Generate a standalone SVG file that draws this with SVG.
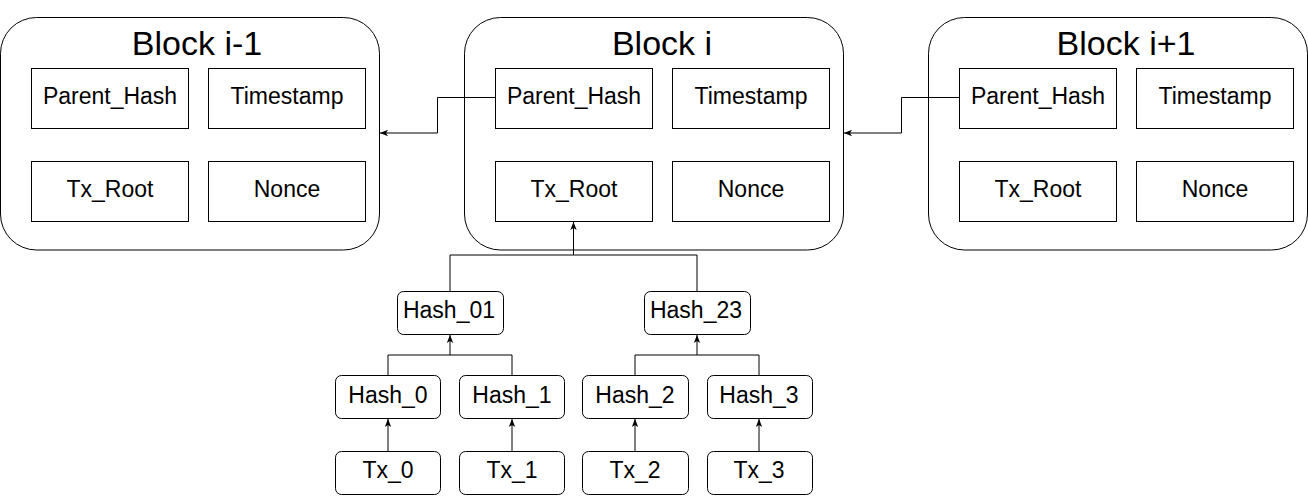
<svg xmlns="http://www.w3.org/2000/svg" width="1308" height="496" viewBox="0 0 1308 496">
<defs>
<style>
.blk{fill:#fff;stroke:#000;stroke-width:1}
.fld{fill:#fff;stroke:#000;stroke-width:1}
.hb{fill:#fff;stroke:#000;stroke-width:1}
.t{font-family:"Liberation Sans",Arial,sans-serif;fill:#000;text-anchor:middle}
.title{font-size:34px}
.lbl{font-size:23px}
.c{fill:none;stroke:#000;stroke-width:1}
</style>
<marker id="ah" viewBox="0 0 10 10" refX="10" refY="5" markerWidth="8" markerHeight="8" markerUnits="userSpaceOnUse" orient="auto">
<path d="M0,1 L10,5 L0,9 L2.5,5 Z" fill="#000"/>
</marker>
</defs>
<rect width="1308" height="496" fill="#fff"/>

<g id="block-i-1">
<rect class="blk" x="0.5" y="17.5" width="379" height="232.5" rx="36" ry="36"/>
<text class="t title" x="197" y="55">Block i-1</text>
<rect class="fld" x="31.5" y="68.5" width="157" height="60"/>
<text class="t lbl" x="110" y="104">Parent_Hash</text>
<rect class="fld" x="208.5" y="68.5" width="157" height="60"/>
<text class="t lbl" x="287" y="104">Timestamp</text>
<rect class="fld" x="31.5" y="161.5" width="157" height="60"/>
<text class="t lbl" x="110" y="197">Tx_Root</text>
<rect class="fld" x="208.5" y="161.5" width="157" height="60"/>
<text class="t lbl" x="287" y="197">Nonce</text>
</g>

<g id="block-i">
<rect class="blk" x="464.5" y="17.5" width="379" height="232.5" rx="36" ry="36"/>
<text class="t title" x="662" y="55">Block i</text>
<rect class="fld" x="495.5" y="68.5" width="157" height="60"/>
<text class="t lbl" x="574" y="104">Parent_Hash</text>
<rect class="fld" x="672.5" y="68.5" width="157" height="60"/>
<text class="t lbl" x="751" y="104">Timestamp</text>
<rect class="fld" x="495.5" y="161.5" width="157" height="60"/>
<text class="t lbl" x="574" y="197">Tx_Root</text>
<rect class="fld" x="672.5" y="161.5" width="157" height="60"/>
<text class="t lbl" x="751" y="197">Nonce</text>
</g>

<g id="block-i+1">
<rect class="blk" x="928.5" y="17.5" width="379" height="232.5" rx="36" ry="36"/>
<text class="t title" x="1126" y="55">Block i+1</text>
<rect class="fld" x="959.5" y="68.5" width="157" height="60"/>
<text class="t lbl" x="1038" y="104">Parent_Hash</text>
<rect class="fld" x="1136.5" y="68.5" width="157" height="60"/>
<text class="t lbl" x="1215" y="104">Timestamp</text>
<rect class="fld" x="959.5" y="161.5" width="157" height="60"/>
<text class="t lbl" x="1038" y="197">Tx_Root</text>
<rect class="fld" x="1136.5" y="161.5" width="157" height="60"/>
<text class="t lbl" x="1215" y="197">Nonce</text>
</g>

<g id="hash-01">
<rect class="hb" x="397.5" y="291.5" width="106" height="43" rx="6" ry="6"/>
<text class="t lbl" x="449" y="318">Hash_01</text>
</g>
<g id="hash-23">
<rect class="hb" x="644.5" y="291.5" width="106" height="43" rx="6" ry="6"/>
<text class="t lbl" x="696" y="318">Hash_23</text>
</g>
<g id="hash-0">
<rect class="hb" x="335.5" y="375.5" width="105" height="43" rx="6" ry="6"/>
<text class="t lbl" x="388" y="403">Hash_0</text>
</g>
<g id="hash-1">
<rect class="hb" x="459.5" y="375.5" width="105" height="43" rx="6" ry="6"/>
<text class="t lbl" x="512" y="403">Hash_1</text>
</g>
<g id="hash-2">
<rect class="hb" x="582.5" y="375.5" width="106" height="43" rx="6" ry="6"/>
<text class="t lbl" x="635" y="403">Hash_2</text>
</g>
<g id="hash-3">
<rect class="hb" x="707.5" y="375.5" width="105" height="43" rx="6" ry="6"/>
<text class="t lbl" x="759" y="403">Hash_3</text>
</g>
<g id="tx-0">
<rect class="hb" x="335.5" y="451.5" width="105" height="43" rx="6" ry="6"/>
<text class="t lbl" x="388" y="478">Tx_0</text>
</g>
<g id="tx-1">
<rect class="hb" x="459.5" y="451.5" width="105" height="43" rx="6" ry="6"/>
<text class="t lbl" x="512" y="478">Tx_1</text>
</g>
<g id="tx-2">
<rect class="hb" x="582.5" y="451.5" width="106" height="43" rx="6" ry="6"/>
<text class="t lbl" x="635" y="478">Tx_2</text>
</g>
<g id="tx-3">
<rect class="hb" x="707.5" y="451.5" width="105" height="43" rx="6" ry="6"/>
<text class="t lbl" x="759" y="478">Tx_3</text>
</g>

<g id="connectors">
<path class="c" d="M495,97.5 H437.5 V133 H380" marker-end="url(#ah)"/>
<path class="c" d="M959,97.5 H901.5 V133 H844" marker-end="url(#ah)"/>
<path class="c" d="M450,291 V255 H697 V291"/>
<path class="c" d="M573.5,255 V222" marker-end="url(#ah)"/>
<path class="c" d="M388,375 V355 H512 V375"/>
<path class="c" d="M450,355 V335" marker-end="url(#ah)"/>
<path class="c" d="M635,375 V355 H759 V375"/>
<path class="c" d="M697,355 V335" marker-end="url(#ah)"/>
<path class="c" d="M388,451 V419" marker-end="url(#ah)"/>
<path class="c" d="M512,451 V419" marker-end="url(#ah)"/>
<path class="c" d="M635,451 V419" marker-end="url(#ah)"/>
<path class="c" d="M759,451 V419" marker-end="url(#ah)"/>
</g>
</svg>
